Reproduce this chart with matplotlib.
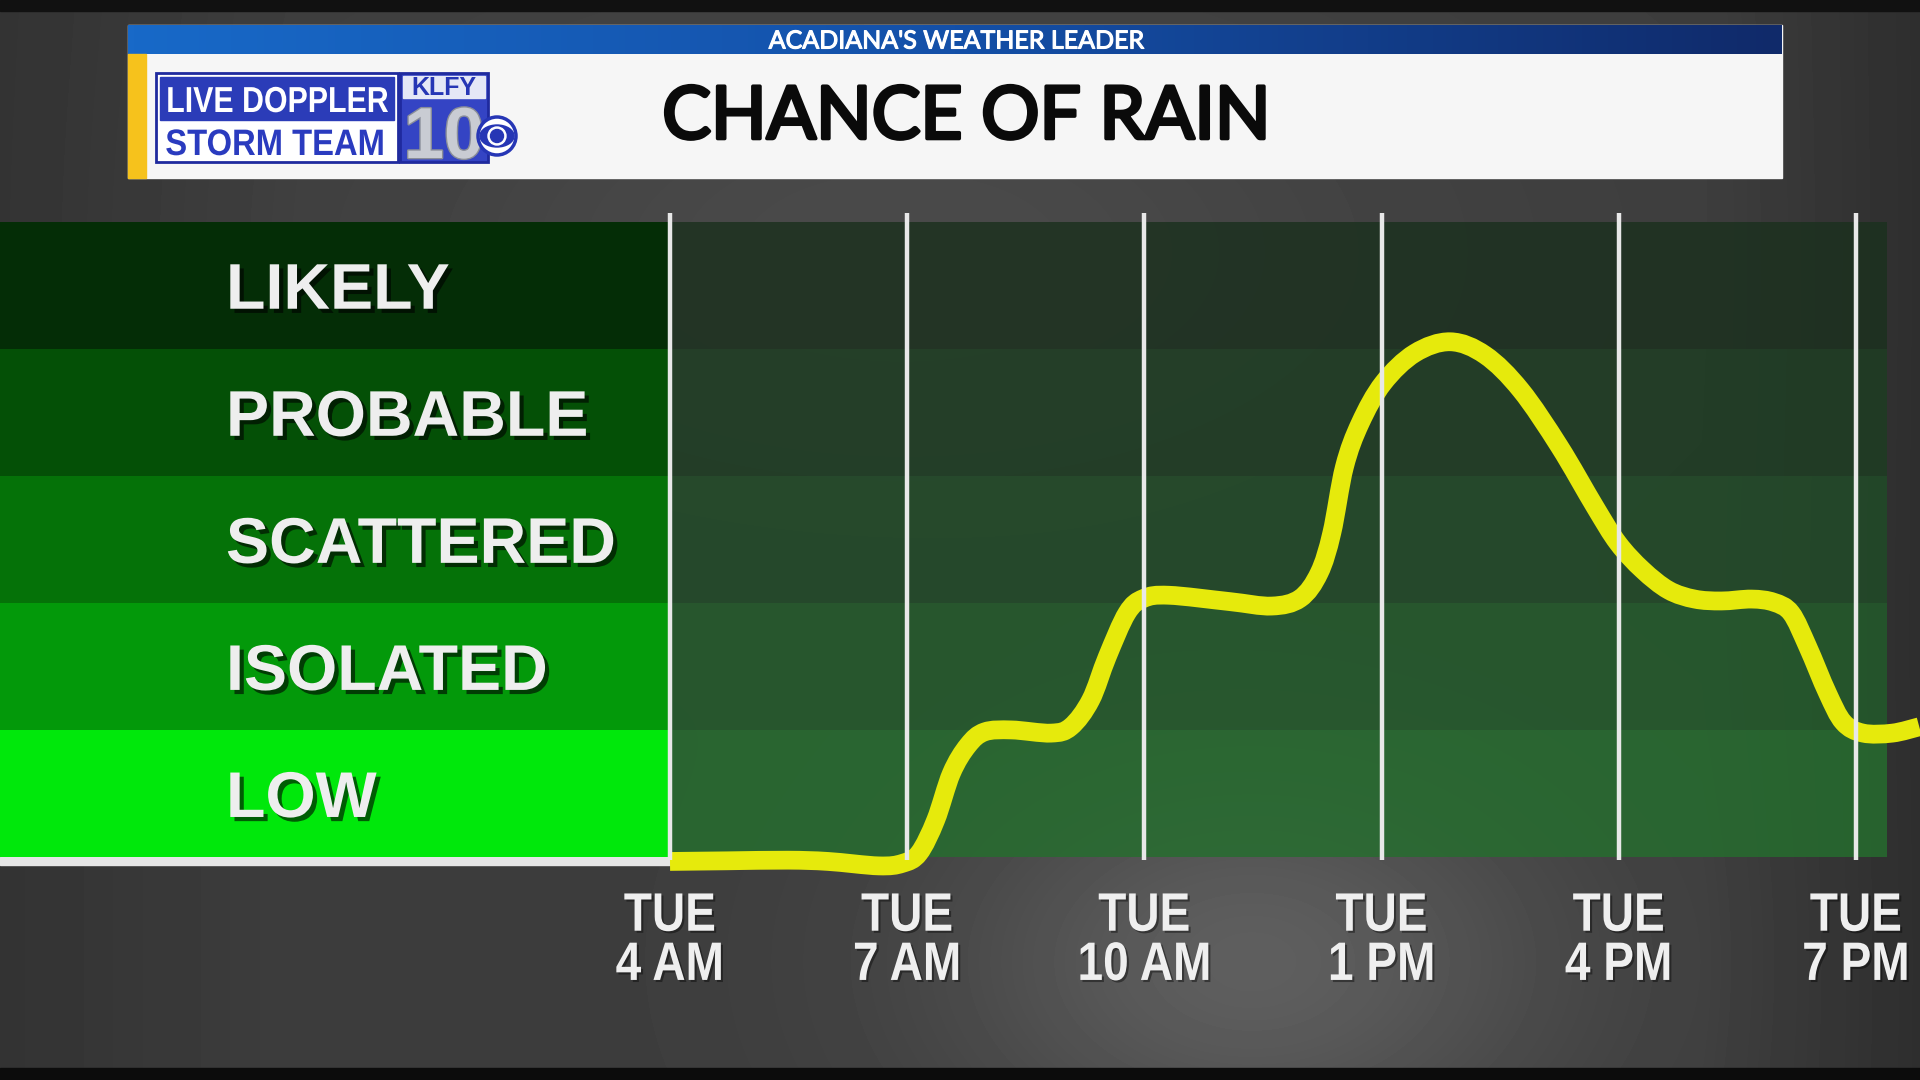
import numpy as np
import matplotlib
matplotlib.use('Agg')
import matplotlib.pyplot as plt
from matplotlib import patheffects as pe
from matplotlib.patches import Rectangle, Circle, Ellipse, PathPatch
from matplotlib.path import Path
from matplotlib.transforms import Affine2D

# datos del grafico
categorias = ['LOW', 'ISOLATED', 'SCATTERED', 'PROBABLE', 'LIKELY']
limites = [0, 20, 40, 60, 80, 100]          # % por banda
horas_ticks = [4, 7, 10, 13, 16, 19]
etiquetas_ticks = ['TUE\n4 AM', 'TUE\n7 AM', 'TUE\n10 AM', 'TUE\n1 PM', 'TUE\n4 PM', 'TUE\n7 PM']

# chance de lluvia (%), hora del dia
horas = [4.00, 4.72, 5.49, 6.00, 6.64, 6.94, 7.15, 7.36, 7.56, 7.77, 7.98, 8.32,
         8.82, 9.07, 9.32, 9.53, 9.78, 9.99, 10.31, 11.08, 11.61, 11.97, 12.21,
         12.37, 12.53, 12.73, 13.02, 13.42, 13.87, 14.31, 14.76, 15.25, 15.70,
         15.99, 16.30, 16.63, 16.96, 17.30, 17.68, 17.96, 18.18, 18.39, 18.64,
         18.84, 19.09, 19.46, 19.80]
chance = [-0.7, -0.6, -0.5, -0.7, -1.4, -1.0, 0.6, 5.8, 13.2, 17.6, 19.7, 20.0,
          19.5, 20.5, 24.7, 31.5, 38.4, 40.7, 41.2, 40.2, 39.5, 40.7, 44.7,
          51.0, 61.4, 68.3, 74.6, 79.3, 81.1, 79.0, 73.5, 64.6, 55.1,
          49.4, 45.2, 42.0, 40.6, 40.3, 40.6, 40.1, 38.4, 33.1, 25.8,
          21.2, 19.5, 19.5, 20.5]

# estilos
col_panel = ['#00e80b', '#03990a', '#057208', '#045006', '#042d06']
col_chart = ['#256e2e', '#225c2a', '#204b27', '#1d3d22', '#1b301e']
amarillo = '#e6ea0c'
W, H = 1920, 1080


class Estrecho(pe.AbstractPathEffect):
    """comprime el texto en horizontal (no hay fuente narrow), con sombra opcional"""
    def __init__(self, sx, sombra=None, alpha=0.5):
        super().__init__(offset=sombra or (0, 0))
        self.sx = sx
        self.sombra = sombra
        self.alpha = alpha

    def draw_path(self, renderer, gc, tpath, affine, rgbFace=None):
        ext = tpath.get_extents()
        cx = 0.5 * (ext.x0 + ext.x1)
        t = Affine2D().translate(-cx, 0).scale(self.sx, 1).translate(cx, 0) + affine
        if self.sombra:
            gc0 = renderer.new_gc()
            gc0.copy_properties(gc)
            gc0.set_foreground('black')
            gc0.set_alpha(self.alpha)
            renderer.draw_path(gc0, tpath, t + self._offset_transform(renderer), (0, 0, 0))
            gc0.restore()
        renderer.draw_path(gc, tpath, t, rgbFace)


def ruta_suave(x, y):
    p = np.column_stack([x, y])
    verts, codes = [p[0]], [Path.MOVETO]
    for i in range(len(p) - 1):
        p0 = p[i - 1] if i > 0 else p[i]
        p3 = p[i + 2] if i + 2 < len(p) else p[i + 1]
        verts += [p[i] + (p[i + 1] - p0) / 6, p[i + 1] - (p3 - p[i]) / 6, p[i + 1]]
        codes += [Path.CURVE4] * 3
    return Path(verts, codes)


fig = plt.figure(figsize=(19.2, 10.8), dpi=100)

# fondo gris (pixeles)
bg = fig.add_axes([0, 0, 1, 1])
bg.set_xlim(0, W)
bg.set_ylim(H, 0)
bg.axis('off')
yy, xx = np.mgrid[0:H:4, 0:W:4]
img = 0.24 + 0.13 * np.exp(-(((xx - 1250) / 300.0) ** 2 + ((yy - 960) / 200.0) ** 2))
img += 0.05 * np.exp(-(((xx - 900) / 500.0) ** 2 + ((yy - 250) / 250.0) ** 2))
img -= 0.06 * np.clip((xx - 1700) / 220.0, 0, 1)
img -= 0.04 * np.clip((300 - xx) / 300.0, 0, 1)
bg.imshow(img, extent=(0, W, H, 0), cmap='gray', vmin=0, vmax=1,
          interpolation='bilinear', aspect='auto', zorder=0)
bg.add_patch(Rectangle((0, 0), W, 11, color='#111111', zorder=1))
bg.add_patch(Rectangle((0, 1068), W, 12, color='#0c0c0c', zorder=1))

# cabecera
bg.add_patch(Rectangle((128, 25), 1654, 153, color='#f6f6f6', zorder=2))
grad = np.linspace(0, 1, 256).reshape(1, -1)
azul = matplotlib.colors.LinearSegmentedColormap.from_list('az', ['#1869c8', '#1450a8', '#102a6a'])
bg.imshow(grad, extent=(128, 1782, 54, 25), cmap=azul, aspect='auto', zorder=3)
bg.add_patch(Rectangle((128, 54), 18, 124, color='#f6c21c', zorder=3))
bg.text(956, 41, "ACADIANA'S WEATHER LEADER", family='Lato', fontsize=18,
        color='white', ha='center', va='center', zorder=4,
        path_effects=[pe.withStroke(linewidth=0.8, foreground='white')])
bg.text(966, 118, 'CHANCE OF RAIN', family='Lato', fontsize=52.5,
        color='#0a0a0a', ha='center', va='center', zorder=4,
        path_effects=[pe.withStroke(linewidth=2.6, foreground='#0a0a0a')])

# logo
bg.add_patch(Rectangle((156, 73), 242, 89, fc='white', ec='#1f2a9e', lw=2, zorder=4))
bg.add_patch(Rectangle((160, 77), 234, 43, color='#2b3cb8', zorder=5))
bg.text(277, 112, 'LIVE DOPPLER', family='Liberation Sans', weight='bold', fontsize=26,
        color='white', ha='center', va='baseline', zorder=6,
        path_effects=[Estrecho(0.84)])
bg.text(275, 155, 'STORM TEAM', family='Liberation Sans', weight='bold', fontsize=26.5,
        color='#2a3bbf', ha='center', va='baseline', zorder=6,
        path_effects=[Estrecho(0.89)])
bg.add_patch(Rectangle((400, 73), 88, 89, fc='#3444c4', ec='#1f2a9e', lw=2, zorder=4))
bg.add_patch(Rectangle((403, 76), 82, 22, color='#e4e7f6', zorder=5))
bg.text(444, 95, 'KLFY', family='Liberation Sans', weight='bold', fontsize=18,
        color='#2636b5', ha='center', va='baseline', zorder=6)
bg.text(444, 158, '10', family='Liberation Sans', weight='bold', fontsize=52, color='#c9ccd3',
        ha='center', va='baseline', zorder=6,
        path_effects=[pe.withStroke(linewidth=2, foreground='#8a8e99')])
bg.add_patch(Circle((497, 136), 19, fc='white', ec='#2636b5', lw=2.5, zorder=7))
bg.add_patch(Ellipse((497, 136), 34, 22, color='#2636b5', zorder=8))
bg.add_patch(Circle((497, 136), 9, color='white', zorder=9))
bg.add_patch(Circle((497, 136), 6.5, color='#2636b5', zorder=10))

# panel de categorias
y0 = (H - 857) / H
alto = (857 - 221.7) / H
medios = [(a + b) / 2 for a, b in zip(limites[:-1], limites[1:])]
panel = fig.add_axes([0, y0, 668 / W, alto])
panel.barh(medios, 1, height=20, left=0, color=col_panel)
panel.set_xlim(0, 1)
panel.set_ylim(0, 100)
panel.axis('off')
sombra = [pe.SimplePatchShadow(offset=(3, -3), shadow_rgbFace='black', alpha=0.6), pe.Normal()]
for m, cat in zip(medios, categorias):
    panel.text(226 / 668, m - 3.7, cat, family='Liberation Sans', weight='bold',
               fontsize=46.5, color='#eeeeee', ha='left', va='baseline',
               path_effects=sombra)
bg.add_patch(Rectangle((0, 857), 673, 8, color='#e6e6e6', zorder=5))

# grafico
ax = fig.add_axes([670 / W, y0, 1250 / W, alto])
ax.set_facecolor('none')
ax.set_xlim(4, 4 + 1250 / 237.2 * 3)
ax.set_ylim(0, 100)
ax.barh(medios, 19.39 - 4, left=4, height=20, color=col_chart, alpha=0.82, zorder=1)
ax.add_patch(PathPatch(ruta_suave(horas, chance), fill=False, edgecolor=amarillo,
                       lw=13.5, capstyle='butt', joinstyle='round', clip_on=False, zorder=3))
ax.vlines(horas_ticks, -0.5, 101.4, colors='#e8e8e8', lw=3.2, clip_on=False, zorder=4)
for s in ax.spines.values():
    s.set_visible(False)
ax.set_yticks([])
ax.set_xticks(horas_ticks)
ax.set_xticklabels(etiquetas_ticks, family='Liberation Sans', weight='bold', fontsize=39,
                   color='#efefef', linespacing=0.98)
for t in ax.get_xticklabels():
    t.set_path_effects([Estrecho(0.85, sombra=(1.5, -1.5), alpha=0.4)])
ax.tick_params(axis='x', length=0, pad=25)

fig.savefig('out.png', dpi=100)
